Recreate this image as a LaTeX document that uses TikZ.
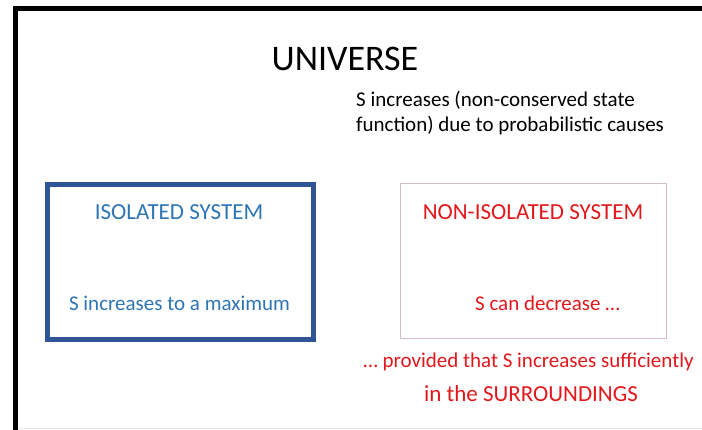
\documentclass[tikz,border=0pt]{standalone}
\usepackage{fontspec}
\setmainfont{Carlito}
\usepackage{xcolor}
\usetikzlibrary{positioning,calc}
\definecolor{isoblue}{RGB}{47,85,151}
\definecolor{isotext}{RGB}{46,117,182}
\definecolor{nonisored}{RGB}{226,24,28}
\definecolor{nonisoedge}{RGB}{214,188,190}
\definecolor{floorgray}{RGB}{232,232,232}

\begin{document}
\begin{tikzpicture}[x=1pt,y=-1pt,box/.style={inner sep=0pt,minimum width=266pt,minimum height=155pt},lbl/.style={anchor=base,inner sep=0pt,font=\fontsize{21}{25}\selectfont},head/.style={lbl,font=\fontsize{23}{27}\selectfont}]
\useasboundingbox (0,0) rectangle (702,430);
\fill[white] (0,0) rectangle (702,430);
% universe frame
\draw[line width=5pt] (15.5,430) -- (15.5,8.5) -- (702,8.5); \draw[floorgray,line width=1pt] (18,429) -- (702,429);
\node[anchor=base,inner sep=0pt,font=\fontsize{36}{40}\selectfont](univ) at (345,71){UNIVERSE};
\node[anchor=base west,inner sep=0pt,align=left,font=\fontsize{21}{25}\selectfont](unote) at (356,132){S increases (non-conserved state\\function) due to probabilistic causes};
% the two systems
\node[box,draw=isoblue,line width=5pt](iso) at (180.5,262){}; \node[box,draw=nonisoedge,line width=1.2pt](noniso) at (533.5,261){};
\node[head,text=isotext](isoname) at (179,220){ISOLATED SYSTEM}; \node[lbl,text=isotext](isorule) at (179.5,311){S increases to a maximum};
\node[head,text=nonisored](noniname) at (533,220){NON-ISOLATED SYSTEM}; \node[lbl,text=nonisored](nonirule) at (547.5,311){S can decrease \dots};
\node[lbl,text=nonisored](prov) at (528.5,368){\dots\ provided that S increases sufficiently}; \node[head,text=nonisored](surr) at (531,402){in the SURROUNDINGS};
\end{tikzpicture}
\end{document}
